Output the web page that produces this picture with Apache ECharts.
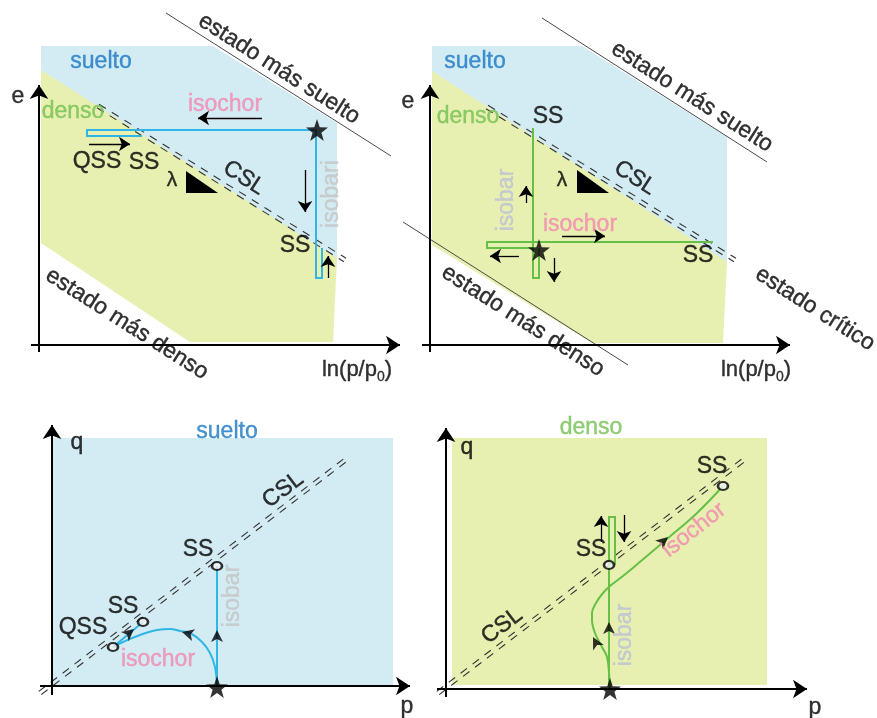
<!DOCTYPE html>
<html><head><meta charset="utf-8">
<script src="https://cdn.jsdelivr.net/npm/echarts@6/dist/echarts.min.js"></script>
<style>html,body{margin:0;padding:0;background:#fff}#c{width:877px;height:718px}</style>
</head><body><div id="c"></div>
<script>
// ===================== DATA (each panel in its own units; origin = axes crossing) =====================
// ---- Panel 1 : e – ln(p/p0), loose sample ----
const p1Loose   = [[2,299],[174,299],[298,222],[298,80],[2,275]];
const p1Dense   = [[2,275],[298,87],[294,3],[151,3],[2,102]];
const p1CSL     = [[59,239],[306,85]];
const p1Loosest = [[127,332],[352,189]];
const p1Isochor = [[278,215],[48,215],[48,209],[103,209]];
const p1Isobar  = [[277,215],[277,67],[283,67],[283,97]];
const p1Start   = [[278,215]];
const p1Slope   = [[147,174],[147,152],[179,152]];
const p1Arrows  = [[[223,227],[159,227]],[[50,201],[91,201]],[[266,175],[266,133]],[[289,67],[289,89]]];
const p1Axes    = [[[0,-7],[0,260]],[[-8,0],[361,0]]];
const p1Labels  = [
  [62,283,'suelto','blue'],[34,233,'denso','green'],[186,240,'isochor','pink'],
  [58,183,'QSS','black'],[105,182,'SS','black'],[133,165,'λ','lambda'],
  [205,167,'CSL','cslDown'],[293,151,'isobari','grayV'],[256,99,'SS','black'],
  [240,276,'estado más suelto','estado'],[88,21,'estado más denso','estado'],
  [-21,248,'e','black'],[318,-25,'{a|ln(p/p}{s|0}{a|)}','lnp']
];
// ---- Panel 2 : e – ln(p/p0), dense sample ----
const p2Loose   = [[2,299],[152,299],[297,208],[297,80],[2,274]];
const p2Dense   = [[2,274],[297,83],[293,2],[162,2],[2,100]];
const p2CSL     = [[57,238],[305,85]];
const p2Loosest = [[112,327],[337,183]];
const p2Densest = [[-27,123],[198,-20]];
const p2Isobar  = [[103,217],[103,67],[109,67],[109,97]];
const p2Isochor = [[283,103],[57,103],[57,97],[103,97]];
const p2Start   = [[109,95]];
const p2Slope   = [[147,175],[147,152],[179,152]];
const p2Arrows  = [[[96,142],[96,159]],[[89,89],[60,89]],[[124,87],[124,63]],[[132,109],[175,109]]];
const p2Axes    = [[[0,-7],[0,260]],[[-8,0],[360,0]]];
const p2Labels  = [
  [45,283,'suelto','blue'],[38,228,'denso','green'],[118,228,'SS','black'],
  [77,145,'isobar','grayV2'],[150,120,'isochor','pink'],[132,165,'λ','lambda'],
  [205,167,'CSL','cslDown'],[268,89,'SS','black'],
  [262,248,'estado más suelto','estado'],[93,24,'estado más denso','estado'],
  [385,36,'estado crítico','estado'],
  [-22,243,'e','black'],[326,-25,'{a|ln(p/p}{s|0}{a|)}','lnp']
];
// ---- Panel 3 : q – p, loose sample ----
const p3Loose   = [[0,1],[341,1],[341,248],[0,248]];
const p3CSL     = [[-12,-7],[296,228]];
const p3Isobar  = [[165,0],[165,120]];
const p3Isochor = [[165,0],[163,19],[158,33],[150,44],[138,53],[128,55],[118,57],[105,56],[88,51],[71,44],[61,39]];
const p3Return  = [[61,39],[91,64]];
const p3Points  = [[165,120],[61,39],[91,64]];
const p3Start   = [[165,-1]];
const p3Heads   = [[165,56,0],[130,54,75],[82,57,-50]];
const p3Axes    = [[[0,-9],[0,261]],[[-12,0],[358,0]]];
const p3Labels  = [
  [175,254,'suelto','blue'],[25,243,'q','black'],[355,-21,'p','black'],
  [231,196,'CSL','cslUp'],[146,136,'SS','black'],[181,90,'isobar','grayV'],
  [31,58,'QSS','black'],[71,79,'SS','black'],[106,26,'isochor','pink']
];
// ---- Panel 4 : q – p, dense sample ----
const p4Dense   = [[6,4],[321,4],[321,251],[6,251]];
const p4CSL     = [[-8,-4],[299,230]];
const p4Isobar  = [[163,0],[163,172],[169,172],[169,124]];
const p4Isochor = [[164,0],[163,16],[161,32],[156,42],[149,56],[146,69],[146,76],[150,86],[157,96],[164,103],[177,113],[195,128],[221,150],[250,175],[277,203]];
const p4Points  = [[163,124],[277,203]];
const p4Start   = [[164,0]];
const p4Heads   = [[163,67,0],[147,52,27],[222,152,-48]];
const p4Arrows  = [[[155,147],[155,173]],[[178,174],[178,147]]];
const p4Axes    = [[[0,-8],[0,261]],[[-9,0],[361,0]]];
const p4Labels  = [
  [145,261,'denso','green'],[21,241,'q','black'],[369,-19,'p','black'],
  [56,63,'CSL','cslUp'],[266,222,'SS','black'],[145,139,'SS','black'],
  [179,54,'isobar','grayV2'],[248,159,'isochor','pinkUp']
];

// ===================== LAYOUT & STYLE =====================
const W = 877, H = 718;
const ORIGINS = [[39,345],[430,345],[52,686],[446,689]];
const FONT = "'Liberation Sans', Arial, Helvetica, sans-serif";
const C = {
  blueFill:'#d3ebf3', greenFill:'#e8f0b1', blueLine:'#30b6e6', greenLine:'#66c046',
  ink:'#000000', dash:'#333333', thin:'#4a4a4a'
};
const TEXT = {
  blue:{color:'#1a78c4'}, green:{color:'#74c052'}, pink:{color:'#f288b0'},
  pinkUp:{color:'#f288b0', rotate:38},
  black:{color:'#000'}, lambda:{color:'#000', fontSize:21},
  cslDown:{color:'#000', rotate:-33}, cslUp:{color:'#000', rotate:37},
  grayV:{color:'#c4c4c4', rotate:90}, grayV2:{color:'#bcc0d6', rotate:90},
  estado:{color:'#000', rotate:-32.5},
  lnp:{rich:{a:{fontSize:22, fontFamily:FONT, color:'#000', lineHeight:28, textBorderColor:'#000', textBorderWidth:0.4},
             s:{fontSize:14, fontFamily:FONT, color:'#000', lineHeight:14, verticalAlign:'bottom', textBorderColor:'#000', textBorderWidth:0.3}}}
};
const STAR = 'path://M0,-10 L2.35,-3.24 L9.51,-3.09 L3.8,1.24 L5.88,8.09 L0,4 L-5.88,8.09 L-3.8,1.24 L-9.51,-3.09 L-2.35,-3.24 Z';

// ===================== BUILDERS =====================
const ax = (i) => ({xAxisIndex:i, yAxisIndex:i, silent:true, animation:false});
function poly(i, pts, fill, z){
  return Object.assign(ax(i), {type:'custom', z, data:pts, encode:{x:0,y:1},
    renderItem:(params, api)=> params.dataIndex!==0 ? null :
      {type:'polygon', shape:{points:pts.map(p=>api.coord(p))}, style:{fill}}});
}
function path(i, pts, color, width, z, smooth){
  return Object.assign(ax(i), {type:'line', z, data:pts, symbol:'none', smooth:smooth||false,
    lineStyle:{color, width, cap:'butt', join:'miter'}});
}
function offset(pts, d){
  const [a,b] = pts, dx=b[0]-a[0], dy=b[1]-a[1], L=Math.hypot(dx,dy);
  const nx=-dy/L*d, ny=dx/L*d;
  return pts.map(p=>[p[0]+nx, p[1]+ny]);
}
function csl(i, pts){
  return [2,-2].map(d => Object.assign(ax(i), {type:'line', z:4, data:offset(pts,d), symbol:'none',
    lineStyle:{color:C.dash, width:1.1, type:[8,7]}}));
}
function arrows(i, list, color, width, size, z){
  return Object.assign(ax(i), {type:'lines', coordinateSystem:'cartesian2d', z,
    data:list.map(c=>({coords:c})), symbol:['none','arrow'], symbolSize:size,
    lineStyle:{color, width, opacity:1}, itemStyle:{color}});
}
function marks(i, pts, symbol, size, style, z){
  return Object.assign(ax(i), {type:'scatter', z, data:pts, symbol, symbolSize:size, itemStyle:style});
}
function heads(i, list){
  return Object.assign(ax(i), {type:'scatter', z:9, symbol:'arrow', symbolSize:[9,12],
    itemStyle:{color:C.ink},
    data:list.map(h=>({value:[h[0],h[1]], symbolRotate:h[2]}))});
}
function labels(i, list){
  return Object.assign(ax(i), {type:'scatter', z:20, symbolSize:0, itemStyle:{color:'transparent'},
    data:list.map(([x,y,t,k]) => {
      const st = TEXT[k];
      const lab = Object.assign({show:true, position:'inside', align:'center', verticalAlign:'middle',
        fontSize:23, fontFamily:FONT, formatter:t}, st);
      if (st.color) { lab.textBorderColor = st.color; lab.textBorderWidth = 0.4; }
      return {value:[x,y], label:lab};
    })});
}

// ===================== OPTION =====================
const grid = ORIGINS.map(()=>({left:0, top:0, width:W, height:H}));
const xAxis = ORIGINS.map((o,i)=>({type:'value', gridIndex:i, min:-o[0], max:W-o[0], show:false}));
const yAxis = ORIGINS.map((o,i)=>({type:'value', gridIndex:i, min:-(H-o[1]), max:o[1], show:false}));
const ring = {color:'#f2f2f2', borderColor:'#000', borderWidth:2.4};
const star = {color:'#000'};

const series = [
  // panel 1
  poly(0,p1Loose,C.blueFill,1), poly(0,p1Dense,C.greenFill,2), ...csl(0,p1CSL),
  path(0,p1Loosest,C.thin,1,3),
  path(0,p1Isochor,C.blueLine,2,6), path(0,p1Isobar,C.blueLine,2,6),
  poly(0,p1Slope,C.ink,7), arrows(0,p1Arrows,C.ink,1.3,11,8), arrows(0,p1Axes,C.ink,2,14,8),
  marks(0,p1Start,STAR,22,star,10), labels(0,p1Labels),
  // panel 2
  poly(1,p2Loose,C.blueFill,1), poly(1,p2Dense,C.greenFill,2), ...csl(1,p2CSL),
  path(1,p2Loosest,C.thin,1,3), path(1,p2Densest,C.thin,1,3),
  path(1,p2Isobar,C.greenLine,2,6), path(1,p2Isochor,C.greenLine,2,6),
  poly(1,p2Slope,C.ink,7), arrows(1,p2Arrows,C.ink,1.3,11,8), arrows(1,p2Axes,C.ink,2,14,8),
  marks(1,p2Start,STAR,22,star,10), labels(1,p2Labels),
  // panel 3
  poly(2,p3Loose,C.blueFill,1), ...csl(2,p3CSL),
  path(2,p3Isobar,C.blueLine,2,6), path(2,p3Isochor,C.blueLine,2,6,0.4), path(2,p3Return,C.blueLine,2,6),
  heads(2,p3Heads), arrows(2,p3Axes,C.ink,2,14,8),
  marks(2,p3Points,'circle',[10,8],ring,10),
  marks(2,p3Start,STAR,22,star,10), labels(2,p3Labels),
  // panel 4
  poly(3,p4Dense,C.greenFill,1), ...csl(3,p4CSL),
  path(3,p4Isobar,C.greenLine,2,6), path(3,p4Isochor,C.greenLine,2,6,0.4),
  heads(3,p4Heads), arrows(3,p4Arrows,C.ink,1.3,11,8), arrows(3,p4Axes,C.ink,2,14,8),
  marks(3,p4Points,'circle',[10,8],ring,10),
  marks(3,p4Start,STAR,22,star,10), labels(3,p4Labels)
];

const chart = echarts.init(document.getElementById('c'), null, {renderer:'canvas'});
chart.setOption({animation:false, backgroundColor:'#fff', grid, xAxis, yAxis, series, tooltip:{show:false}});
</script></body></html>
